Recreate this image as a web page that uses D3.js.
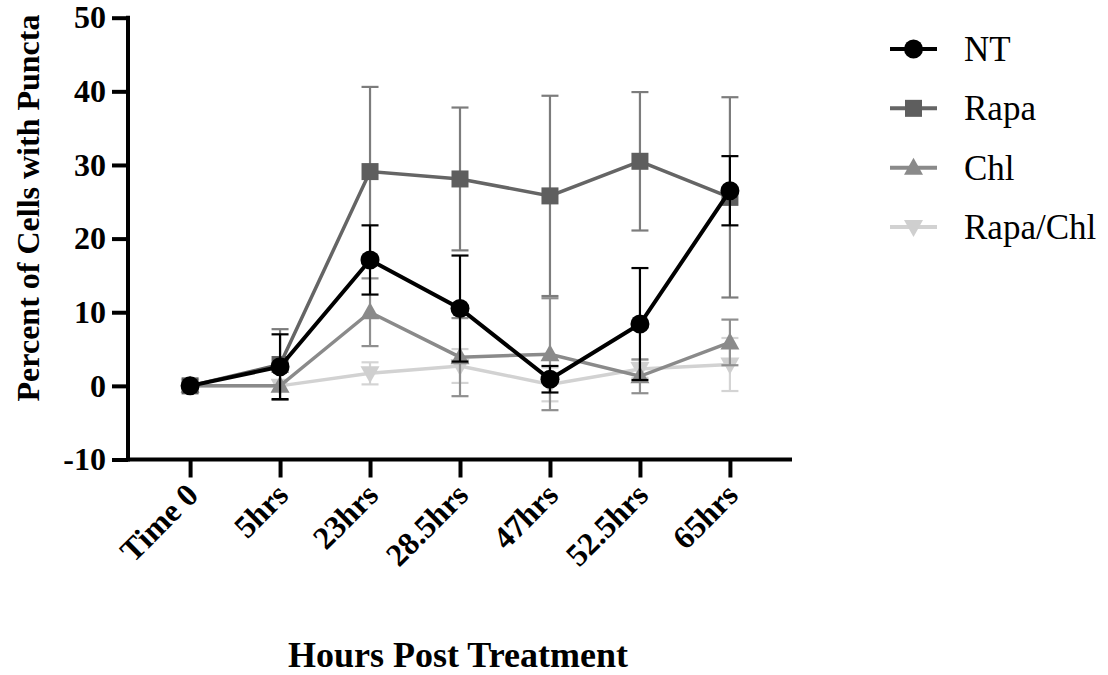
<!DOCTYPE html>
<html>
<head>
<meta charset="utf-8">
<script src="https://cdn.jsdelivr.net/npm/d3@7"></script>
<style>
  body { margin: 0; background: #fff; }
  svg, svg text { font-family: "Liberation Serif", "Times New Roman", Times, "DejaVu Serif", serif; }
</style>
</head>
<body>
<svg id="chart" width="1108" height="675"></svg>
<script>
// categories + values (mean / sd)
const categories = ["Time 0", "5hrs", "23hrs", "28.5hrs", "47hrs", "52.5hrs", "65hrs"];
const yTicks = [-10, 0, 10, 20, 30, 40, 50];

const ntMean = [0, 2.6, 17.1, 10.5, 0.9, 8.4, 26.5];
const ntSd   = [0, 4.4, 4.7, 7.2, 1.8, 7.6, 4.7];
const rapaMean = [0, 2.9, 29.1, 28.1, 25.8, 30.5, 25.6];
const rapaSd   = [0, 4.8, 11.5, 9.7, 13.6, 9.4, 13.6];
const chlMean = [0, 0, 10.0, 3.9, 4.3, 1.3, 5.9];
const chlSd   = [0, 0, 4.6, 5.3, 7.6, 2.3, 3.1];
const rcMean = [0, 0, 1.7, 2.7, 0.2, 2.3, 2.9];
const rcSd   = [0, 0, 1.5, 2.3, 2.3, 1.2, 3.6];

const seriesNames = ["NT", "Rapa", "Chl", "Rapa/Chl"];

const FONT = '"Liberation Serif", "Times New Roman", Times, serif';
const svg = d3.select("#chart");

const x = d3.scalePoint().domain(categories).range([128, 792]).padding(0.69);
const y = d3.scaleLinear().domain([-10, 50]).range([459.5, 17.7]);

// series styles
const series = [
  { name: "Rapa/Chl", mean: rcMean, sd: rcSd, line: "#d2d2d2", mark: "#cfcfcf", err: "#d4d4d4", shape: "down" },
  { name: "Chl", mean: chlMean, sd: chlSd, line: "#8a8a8a", mark: "#8a8a8a", err: "#8f8f8f", shape: "up" },
  { name: "Rapa", mean: rapaMean, sd: rapaSd, line: "#656565", mark: "#5e5e5e", err: "#7c7c7c", shape: "square" },
  { name: "NT", mean: ntMean, sd: ntSd, line: "#000", mark: "#000", err: "#000", shape: "circle" }
];

function drawMarker(g, shape, cx, cy, color) {
  if (shape === "circle") {
    g.append("circle").attr("cx", cx).attr("cy", cy).attr("r", 9.5).attr("fill", color);
  } else if (shape === "square") {
    g.append("rect").attr("x", cx - 8.5).attr("y", cy - 8.5).attr("width", 17).attr("height", 17).attr("fill", color);
  } else if (shape === "up") {
    g.append("path").attr("d", `M${cx},${cy - 10} L${cx + 9.5},${cy + 7} L${cx - 9.5},${cy + 7} Z`).attr("fill", color);
  } else {
    g.append("path").attr("d", `M${cx},${cy + 10} L${cx + 9.5},${cy - 7} L${cx - 9.5},${cy - 7} Z`).attr("fill", color);
  }
}

// axes
const yAxis = svg.append("g")
  .attr("transform", "translate(128,0)")
  .call(d3.axisLeft(y).tickValues(yTicks).tickSize(16).tickPadding(6).tickSizeOuter(0)
    .tickFormat(d => String(d)));
const xAxis = svg.append("g")
  .attr("transform", "translate(0,459.5)")
  .call(d3.axisBottom(x).tickSize(18).tickSizeOuter(0).tickFormat(""));

[yAxis, xAxis].forEach(a => {
  a.attr("font-family", FONT);
  a.select(".domain").attr("stroke", "#000").attr("stroke-width", 4);
  a.selectAll(".tick line").attr("stroke", "#000").attr("stroke-width", 4);
});
yAxis.select(".domain").attr("d", "M0,15.7V461.5");
xAxis.select(".domain").attr("d", "M126,0H792");
yAxis.selectAll(".tick text")
  .attr("font-weight", "bold")
  .attr("font-size", 32)
  .attr("fill", "#000");

// rotated category labels
svg.append("g").attr("font-family", FONT).selectAll("text")
  .data(categories)
  .join("text")
  .attr("transform", d => `translate(${x(d) + 10},${497}) rotate(-45)`)
  .attr("text-anchor", "end")
  .attr("font-weight", "bold")
  .attr("font-size", 32)
  .text(d => d);

// series: lines, error bars, markers
const plot = svg.append("g");
series.forEach(s => {
  const g = plot.append("g");
  const pts = categories.map((c, i) => [x(c), y(s.mean[i])]);
  g.append("path")
    .attr("d", d3.line()(pts))
    .attr("fill", "none")
    .attr("stroke", s.line)
    .attr("stroke-width", s.name === "NT" ? 4 : 3.5);
  categories.forEach((c, i) => {
    if (!s.sd[i]) return;
    const cx = x(c);
    const top = y(s.mean[i] + s.sd[i]), bot = y(s.mean[i] - s.sd[i]);
    g.append("line").attr("x1", cx).attr("x2", cx).attr("y1", top).attr("y2", bot)
      .attr("stroke", s.err).attr("stroke-width", 2.2);
    [top, bot].forEach(v => {
      g.append("line").attr("x1", cx - 8.5).attr("x2", cx + 8.5).attr("y1", v).attr("y2", v)
        .attr("stroke", s.err).attr("stroke-width", 2.2);
    });
  });
  categories.forEach((c, i) => drawMarker(g, s.shape, x(c), y(s.mean[i]), s.mark));
});

// legend
const legendY = d3.scalePoint().domain(seriesNames).range([49, 227]);
const legend = svg.append("g").attr("font-family", FONT);
seriesNames.forEach(n => {
  const s = series.find(d => d.name === n);
  const ly = legendY(n);
  legend.append("line").attr("x1", 890).attr("x2", 937).attr("y1", ly).attr("y2", ly)
    .attr("stroke", s.line).attr("stroke-width", 4);
  drawMarker(legend, s.shape, 913.5, ly, s.mark);
  legend.append("text").attr("x", 964).attr("y", ly + 12)
    .attr("font-size", 35).text(n);
});

// axis titles
svg.append("text")
  .attr("transform", "translate(39,208) rotate(-90)")
  .attr("font-family", FONT)
  .attr("text-anchor", "middle")
  .attr("font-weight", "bold")
  .attr("font-size", 32)
  .text("Percent of Cells with Puncta");

svg.append("text")
  .attr("x", 458).attr("y", 667)
  .attr("font-family", FONT)
  .attr("text-anchor", "middle")
  .attr("font-weight", "bold")
  .attr("font-size", 36)
  .text("Hours Post Treatment");
</script>
</body>
</html>
